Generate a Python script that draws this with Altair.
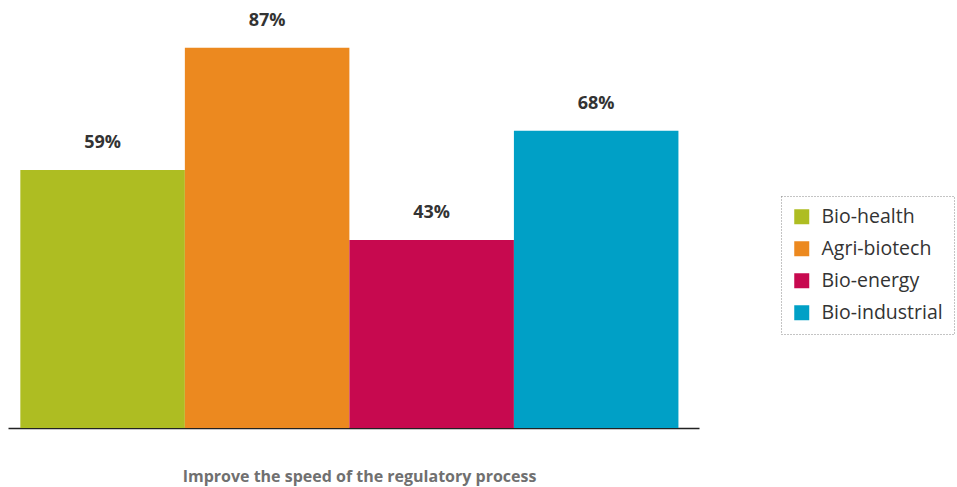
import altair as alt
import pandas as pd

series = ["Bio-health", "Agri-biotech", "Bio-energy", "Bio-industrial"]
values = [59, 87, 43, 68]
labels = ["59%", "87%", "43%", "68%"]
colors = ["#AEBD22", "#EC891F", "#C7094F", "#00A0C6"]
category = "Improve the speed of the regulatory process"

df = pd.DataFrame({"series": series, "value": values, "label": labels})

x = alt.X("series:N", sort=series,
          scale=alt.Scale(paddingInner=0, paddingOuter=0.1, align=0.375),
          axis=alt.Axis(title=category, labels=False, ticks=False, domain=True,
                        domainColor="#222222", domainWidth=1.5,
                        titleFont="Open Sans", titleFontSize=16, titleFontWeight="bold",
                        titleColor="#707070", titlePadding=40, titleX=351))
y = alt.Y("value:Q", scale=alt.Scale(domain=[0, 97.9], nice=False, zero=True), axis=None)

bars = alt.Chart(df).mark_bar(opacity=1).encode(
    x=x, y=y,
    color=alt.Color("series:N", sort=series,
                    scale=alt.Scale(domain=series, range=colors),
                    legend=alt.Legend(title=None, orient="none", legendX=773, legendY=196,
                                      symbolType="square", symbolSize=225,
                                      symbolStrokeWidth=0, symbolOpacity=1,
                                      labelFont="Open Sans", labelFontSize=19.5,
                                      labelColor="#333333", rowPadding=11,
                                      padding=11, strokeColor="#888888",
                                      labelOffset=10)),
)

text = alt.Chart(df).mark_text(dy=-27, font="Open Sans", fontSize=18,
                               fontWeight="bold", color="#333333").encode(
    x=alt.X("series:N", sort=series), y="value:Q", text="label:N")

chart = (bars + text).properties(
    width=691, height=428,
    padding={"left": 8, "top": 0, "right": 258, "bottom": 59},
    autosize=alt.AutoSizeParams(type="none"),
).configure_view(stroke=None).configure_legend(strokeDash=[1, 2])

chart.save("out.html", embed_options={"renderer": "svg", "actions": False})
